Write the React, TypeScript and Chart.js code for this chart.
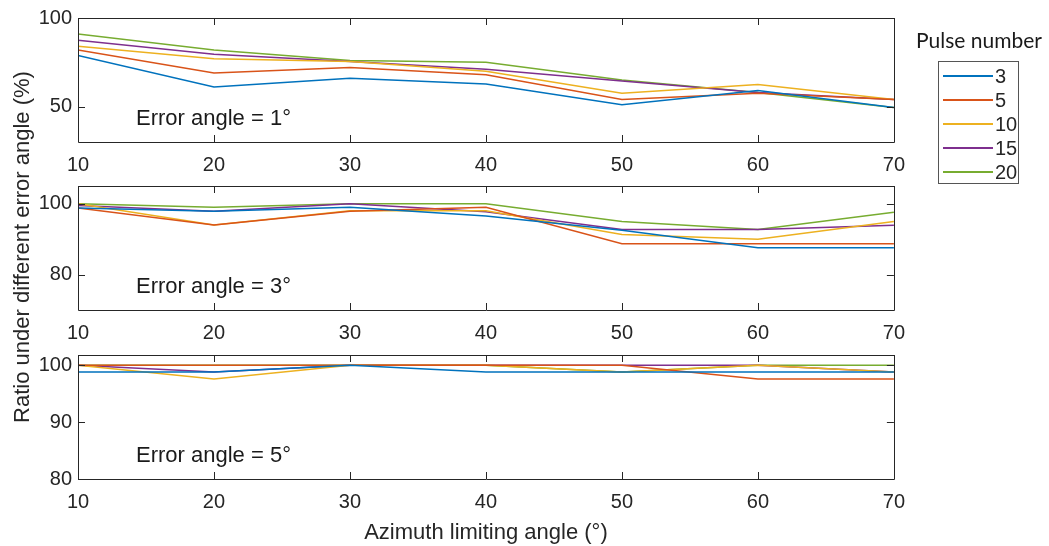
import React, { useEffect, useRef } from "react";
import { Chart, registerables } from "chart.js";

Chart.register(...registerables);

// ---------- data ----------
const azimuthAngles = [10, 20, 30, 40, 50, 60, 70];
const pulseNumbers = ["3", "5", "10", "15", "20"];
const seriesColors = ["#0072BD", "#D95319", "#EDB120", "#7E2F8E", "#77AC30"];

// Error angle = 1°
const err1Pulse3 = [78.9, 61, 66, 62.8, 51, 59, 49.5];
const err1Pulse5 = [82, 69, 72, 68, 54, 57.5, 54];
const err1Pulse10 = [84, 77, 75.5, 70, 57.5, 62.5, 54];
const err1Pulse15 = [87.5, 79.5, 75.5, 71, 64.5, 58, 54];
const err1Pulse20 = [91, 82, 76, 75, 65, 58, 49.5];

// Error angle = 3°
const err3Pulse3 = [98.8, 97.9, 99, 96.5, 92.5, 87.6, 87.6];
const err3Pulse5 = [98.8, 94, 97.9, 99, 88.7, 88.7, 88.7];
const err3Pulse10 = [100, 94, 98, 98, 91.3, 90, 95];
const err3Pulse15 = [99.5, 97.9, 100, 97.7, 92.7, 92.7, 93.9];
const err3Pulse20 = [100, 99, 100, 100, 95, 92.7, 97.6];

// Error angle = 5°
const err5Pulse3 = [98.8, 98.8, 100, 98.8, 98.8, 98.8, 98.8];
const err5Pulse5 = [100, 100, 100, 100, 100, 97.6, 97.6];
const err5Pulse10 = [100, 97.6, 100, 100, 98.8, 100, 98.8];
const err5Pulse15 = [100, 98.8, 100, 100, 100, 100, 98.8];
const err5Pulse20 = [100, 100, 100, 100, 98.8, 100, 100];

const panel1Ticks = [50, 100];
const panel2Ticks = [80, 100];
const panel3Ticks = [80, 90, 100];

const xTickValues = [10, 20, 30, 40, 50, 60, 70];

const errorLabels = ["Error angle = 1°", "Error angle = 3°", "Error angle = 5°"];
const yAxisTitle = "Ratio under different error angle (%)";
const xAxisTitle = "Azimuth limiting angle (°)";
const legendTitle = "Pulse number";

// ---------- styling ----------
const AXIS_COLOR = "#262626";
const FONT = "'Liberation Sans', Arial, sans-serif";
const TICK_SIZE = 20;
const LABEL_SIZE = 22;

type PanelProps = {
  series: number[][];
  yMin: number;
  yMax: number;
  yTicks: number[];
  label: string;
  top: number;
  height: number;
  xTitle?: string;
};

const boxPlugin = {
  id: "matlabBox",
  afterDatasetsDraw(chart: any, _args: any, opts: any) {
    const { ctx, chartArea } = chart;
    const { left, right, top, bottom } = chartArea;
    const xs = chart.scales.x;
    const ys = chart.scales.y;
    const tl = 7;
    ctx.save();
    ctx.strokeStyle = AXIS_COLOR;
    ctx.lineWidth = 1;
    ctx.beginPath();
    ctx.rect(Math.round(left) + 0.5, Math.round(top) + 0.5, Math.round(right - left), Math.round(bottom - top));
    ctx.stroke();
    ctx.beginPath();
    xs.ticks.forEach((t: any) => {
      const px = Math.round(xs.getPixelForValue(t.value)) + 0.5;
      ctx.moveTo(px, bottom);
      ctx.lineTo(px, bottom - tl);
      ctx.moveTo(px, top);
      ctx.lineTo(px, top + tl);
    });
    ys.ticks.forEach((t: any) => {
      const py = Math.round(ys.getPixelForValue(t.value)) + 0.5;
      ctx.moveTo(left, py);
      ctx.lineTo(left + tl, py);
      ctx.moveTo(right, py);
      ctx.lineTo(right - tl, py);
    });
    ctx.stroke();
    if (opts && opts.text) {
      ctx.fillStyle = "#1a1a1a";
      ctx.font = `${LABEL_SIZE}px ${FONT}`;
      ctx.textBaseline = "middle";
      ctx.textAlign = "left";
      ctx.fillText(opts.text, left + 58, bottom - 23);
    }
    ctx.restore();
  },
};

function Panel({ series, yMin, yMax, yTicks, label, top, height, xTitle }: PanelProps) {
  const ref = useRef<HTMLCanvasElement | null>(null);
  useEffect(() => {
    if (!ref.current) return;
    const xAxisHeight = height - 16 - 126;
    const chart = new Chart(ref.current, {
      type: "line",
      data: {
        datasets: series.map((vals, i) => ({
          label: pulseNumbers[i],
          data: vals.map((v, j) => ({ x: azimuthAngles[j], y: v })),
          borderColor: seriesColors[i],
          backgroundColor: seriesColors[i],
          borderWidth: 1.5,
          pointRadius: 0,
          tension: 0,
          fill: false,
        })),
      },
      options: {
        animation: false,
        responsive: false,
        maintainAspectRatio: false,
        events: [],
        layout: { padding: { top: 16, right: 17, left: 0, bottom: 0 } },
        plugins: {
          legend: { display: false },
          tooltip: { enabled: false },
          title: { display: false },
          matlabBox: { text: label },
        } as any,
        scales: {
          x: {
            type: "linear",
            min: 10,
            max: 70,
            afterBuildTicks: (s: any) => {
              s.ticks = xTickValues.map((v) => ({ value: v }));
            },
            afterFit: (s: any) => {
              s.height = xAxisHeight;
            },
            grid: { display: false, drawTicks: false },
            border: { display: false },
            ticks: {
              color: AXIS_COLOR,
              font: { family: FONT, size: TICK_SIZE },
              padding: 11,
              maxRotation: 0,
              autoSkip: false,
            },
            title: xTitle
              ? {
                  display: true,
                  text: xTitle,
                  color: AXIS_COLOR,
                  font: { family: FONT, size: LABEL_SIZE },
                  padding: { top: 0, bottom: 0 },
                }
              : { display: false },
          },
          y: {
            type: "linear",
            min: yMin,
            max: yMax,
            afterBuildTicks: (s: any) => {
              s.ticks = yTicks.map((v) => ({ value: v }));
            },
            afterFit: (s: any) => {
              s.width = 78;
            },
            grid: { display: false, drawTicks: false },
            border: { display: false },
            ticks: {
              color: AXIS_COLOR,
              font: { family: FONT, size: TICK_SIZE },
              padding: 6,
              autoSkip: false,
            },
          },
        },
      },
      plugins: [boxPlugin],
    });
    return () => chart.destroy();
  }, []);
  return (
    <canvas
      ref={ref}
      width={916}
      height={height}
      style={{ position: "absolute", left: 0, top, width: 916, height }}
    />
  );
}

function Legend() {
  const rowTops = [76, 100, 124, 148, 172];
  return (
    <>
      <div
        style={{
          position: "absolute",
          left: 899,
          top: 26,
          width: 160,
          textAlign: "center",
          fontFamily: "Lato, 'Open Sans', sans-serif",
          fontSize: 21,
          color: "#1a1a1a",
          lineHeight: "28px",
        }}
      >
        {legendTitle}
      </div>
      <div
        style={{
          position: "absolute",
          left: 938,
          top: 61,
          width: 81,
          height: 123,
          boxSizing: "border-box",
          border: "1px solid #555",
          background: "#fff",
        }}
      />
      {pulseNumbers.map((p, i) => (
        <React.Fragment key={p}>
          <div
            style={{
              position: "absolute",
              left: 943,
              top: rowTops[i] - 1,
              width: 50,
              height: 1.5,
              background: seriesColors[i],
            }}
          />
          <div
            style={{
              position: "absolute",
              left: 995,
              top: rowTops[i] - 11,
              height: 22,
              lineHeight: "22px",
              fontFamily: FONT,
              fontSize: TICK_SIZE,
              color: AXIS_COLOR,
            }}
          >
            {p}
          </div>
        </React.Fragment>
      ))}
    </>
  );
}

export default function App() {
  return (
    <div
      style={{
        position: "absolute",
        left: 0,
        top: 0,
        width: 1049,
        height: 546,
        background: "#fff",
        overflow: "hidden",
      }}
    >
      <Panel
        series={[err1Pulse3, err1Pulse5, err1Pulse10, err1Pulse15, err1Pulse20]}
        yMin={30}
        yMax={100}
        yTicks={panel1Ticks}
        label={errorLabels[0]}
        top={0}
        height={176}
      />
      <Panel
        series={[err3Pulse3, err3Pulse5, err3Pulse10, err3Pulse15, err3Pulse20]}
        yMin={70}
        yMax={105}
        yTicks={panel2Ticks}
        label={errorLabels[1]}
        top={168}
        height={176}
      />
      <Panel
        series={[err5Pulse3, err5Pulse5, err5Pulse10, err5Pulse15, err5Pulse20]}
        yMin={80}
        yMax={101.8}
        yTicks={panel3Ticks}
        label={errorLabels[2]}
        top={337}
        height={209}
        xTitle={xAxisTitle}
      />
      <div
        style={{
          position: "absolute",
          left: 22 - 250,
          top: 247 - 14,
          width: 500,
          height: 28,
          lineHeight: "28px",
          textAlign: "center",
          transform: "rotate(-90deg)",
          fontFamily: FONT,
          fontSize: LABEL_SIZE,
          color: AXIS_COLOR,
          whiteSpace: "nowrap",
        }}
      >
        {yAxisTitle}
      </div>
      <Legend />
    </div>
  );
}
